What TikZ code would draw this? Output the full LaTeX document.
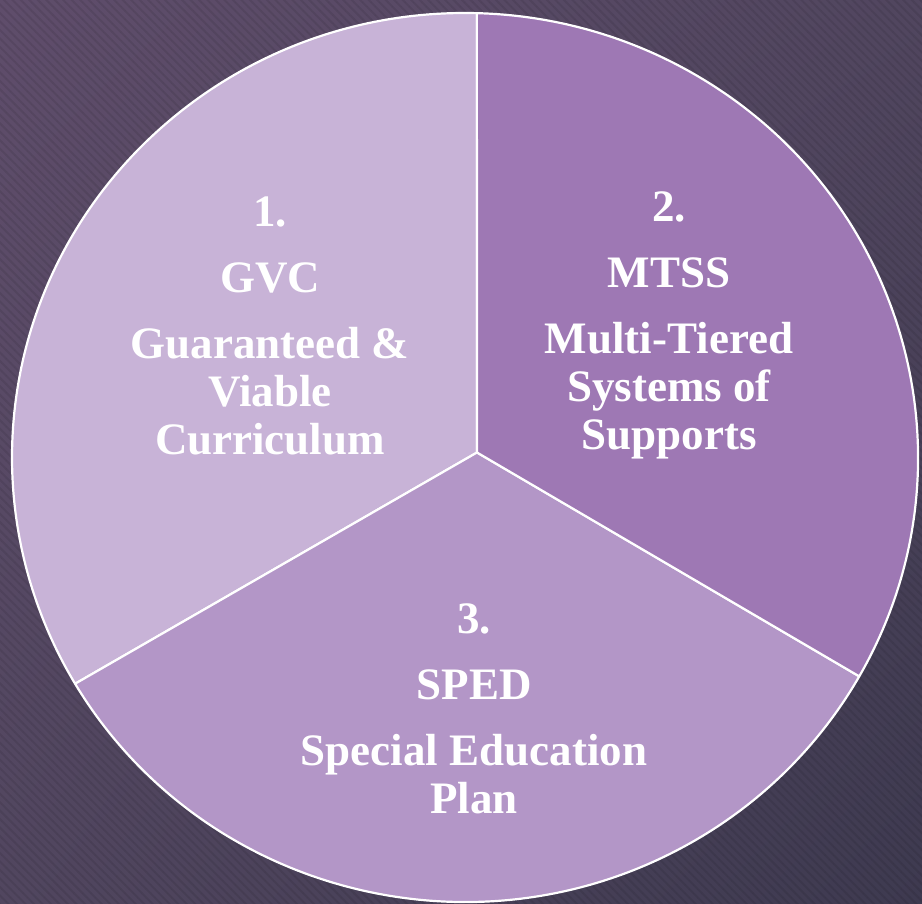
\documentclass[tikz,border=0pt]{standalone}
\usepackage{fontspec}
\setmainfont{Liberation Serif}
\usepackage{tikz}
\usetikzlibrary{calc}
\usetikzlibrary{shadings}
\usetikzlibrary{patterns.meta}
\definecolor{bgdark}{HTML}{3E3A50}
\definecolor{bglight}{HTML}{5F4D6B}
\definecolor{bgmid}{HTML}{51465F}
\definecolor{gvcfill}{HTML}{C8B3D7}
\definecolor{mtssfill}{HTML}{9E78B4}
\definecolor{spedfill}{HTML}{B396C7}
\tikzset{
	wedge/.style={draw=white,line width=2.2pt,line join=round},
	label/.style={text=white,align=center,inner sep=0pt,anchor=north,
		font=\fontsize{45}{48}\selectfont\bfseries}
}

\begin{document}
\begin{tikzpicture}[x=1pt,y=1pt]
	\useasboundingbox (0,0) rectangle (922,904);
	\shade[upper left=bglight,upper right=bgmid,lower left=bgmid,lower right=bgdark] (0,0) rectangle (922,904);
	\fill[pattern={Lines[angle=-45,distance=6pt,line width=2pt]},pattern color=black,opacity=0.08] (0,0) rectangle (922,904);
	\coordinate (E) at (465,446.5);
	\coordinate (J) at (477,451.5);
	\filldraw[wedge,fill=gvcfill] (J) -- ($(E)+(88.5:453 and 444.5)$) arc[start angle=88.5,end angle=210.6,x radius=453pt,y radius=444.5pt] -- cycle;
	\filldraw[wedge,fill=spedfill] (J) -- ($(E)+(210.6:453 and 444.5)$) arc[start angle=210.6,end angle=330.5,x radius=453pt,y radius=444.5pt] -- cycle;
	\begin{scope}[shift={(4,4.5)}]
		\filldraw[wedge,fill=mtssfill] (J) -- ($(E)+(-29.5:453 and 444.5)$) arc[start angle=-29.5,end angle=88.5,x radius=453pt,y radius=444.5pt] -- cycle;
	\end{scope}
	\node[label] (gvc) at (270,707) {1.\\[18pt] GVC\\[18pt] Guaranteed \&\\ Viable\\ Curriculum};
	\node[label] (mtss) at (669,712) {2.\\[18pt] MTSS\\[18pt] Multi-Tiered\\ Systems of\\ Supports};
	\node[label] (sped) at (474,300) {3.\\[18pt] SPED\\[18pt] Special Education\\ Plan};
\end{tikzpicture}
\end{document}
